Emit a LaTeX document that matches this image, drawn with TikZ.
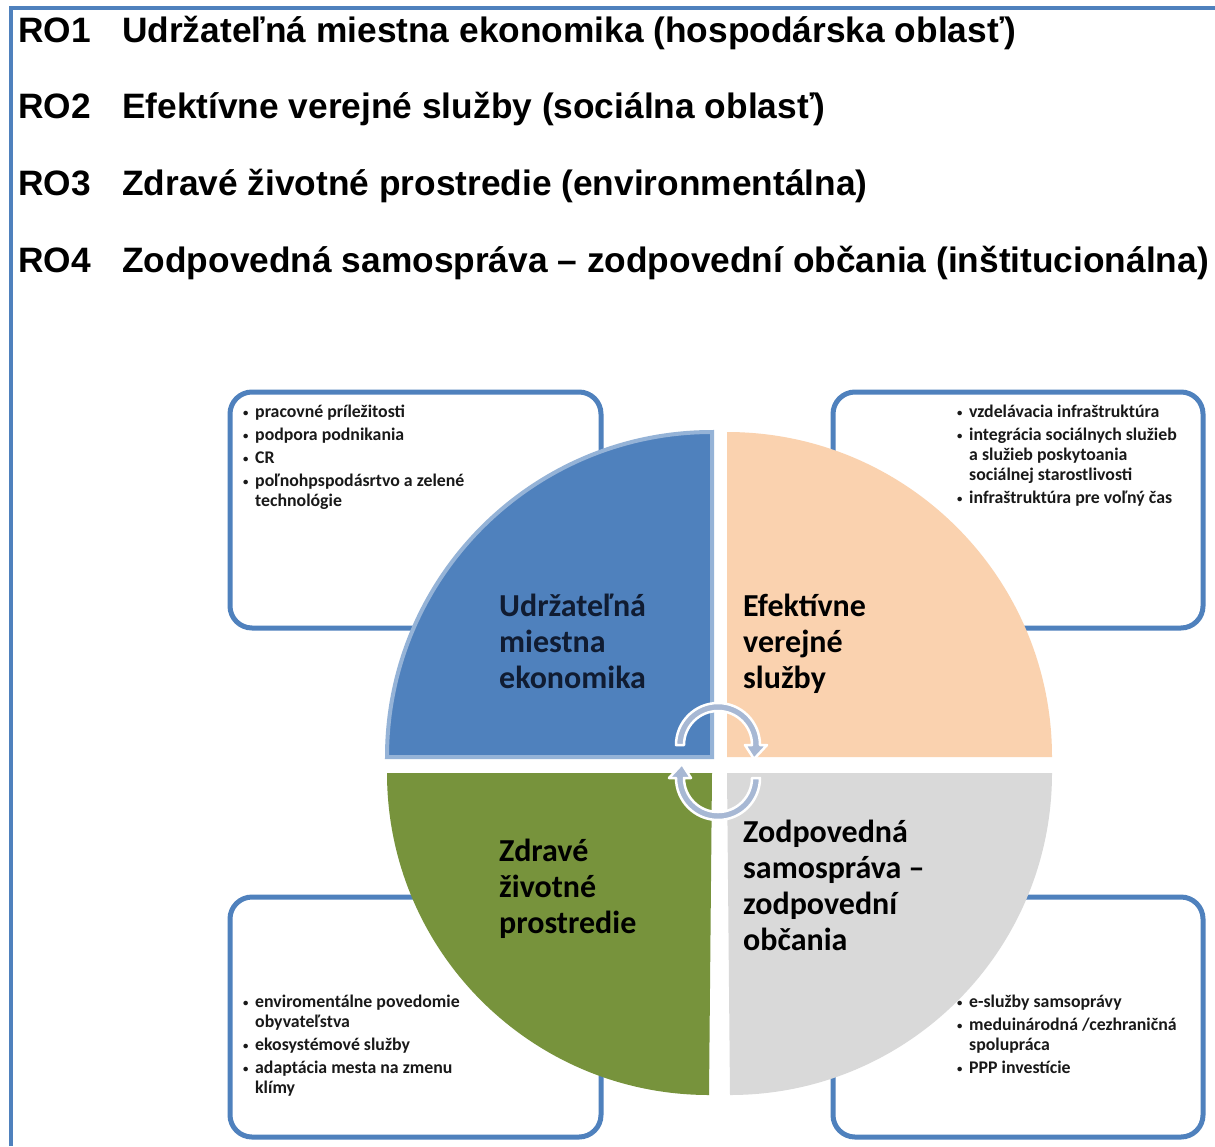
\documentclass[tikz,border=0pt]{standalone}
\usepackage{fontspec}
\setmainfont{Carlito}
\newfontfamily\headfont{Liberation Sans}
\usepackage{tikz}
\definecolor{frameBlue}{RGB}{79,129,189}
\definecolor{rimBlue}{RGB}{149,179,215}
\definecolor{econBlue}{RGB}{79,129,189}
\definecolor{socPeach}{RGB}{250,210,175}
\definecolor{envGreen}{RGB}{119,147,60}
\definecolor{instGray}{RGB}{217,217,217}
\definecolor{cycSteel}{RGB}{167,184,212}
\definecolor{inkNavy}{RGB}{16,28,50}
\newcommand{\lbul}{\makebox[12pt][l]{\raisebox{1pt}{\scalebox{0.6}{\textbullet}}}}

\begin{document}
\begin{tikzpicture}[x=1pt, y=1pt,
  headtxt/.style={anchor=base west, inner sep=0pt, font=\headfont\fontsize{35.3}{40}\selectfont\bfseries},
  qlabel/.style={anchor=base west, inner sep=0pt, font=\fontsize{32}{36}\selectfont\bfseries},
  listtxt/.style={anchor=base west, inner sep=0pt, text=black!90, font=\fontsize{17.8}{20}\selectfont\bfseries},
  listbox/.style={draw=frameBlue, line width=5pt, fill=white, rounded corners=22pt},
  cycarrow/.style={fill=cycSteel, draw=white, line width=2.5pt, line join=round}]
  \useasboundingbox (0,0) rectangle (1215,-1146);
  \fill[white] (0,0) rectangle (1215,-1146);

  % 1. frame
  \draw[frameBlue, line width=4pt] (11,-1146) -- (11,-8) -- (1215,-8);

  % 2. headings
  \node[headtxt] (ro1) at (18,-42) {RO1};
  \node[headtxt] (ro1t) at (122,-42) {Udržateľná miestna ekonomika (hospodárska oblasť)};
  \node[headtxt] (ro2) at (18,-118) {RO2};
  \node[headtxt] (ro2t) at (122,-118) {Efektívne verejné služby (sociálna oblasť)};
  \node[headtxt] (ro3) at (18,-195) {RO3};
  \node[headtxt] (ro3t) at (122,-195) {Zdravé životné prostredie (environmentálna)};
  \node[headtxt] (ro4) at (18,-272) {RO4};
  \node[headtxt] (ro4t) at (122,-272) {Zodpovedná samospráva – zodpovední občania (inštitucionálna)};

  % 3. boxes behind the circle
  \draw[listbox] (230,-392) rectangle (601,-628);
  \draw[listbox] (833,-392) rectangle (1203,-628);
  \draw[listbox] (230,-897) rectangle (601,-1137);
  \draw[listbox] (833,-897) rectangle (1203,-1137);

  % 4. quadrants
  \filldraw[fill=econBlue, draw=rimBlue, line width=4pt] (712,-757) -- (387,-757) arc[start angle=180, end angle=90, radius=325pt] -- cycle;
  \fill[socPeach] (727,-757) -- (727,-432) arc[start angle=90, end angle=0, radius=325pt] -- cycle;
  \fill[envGreen] (712,-773) -- (387,-773) arc[start angle=180, end angle=270, radius=322pt] -- cycle;
  \fill[instGray] (727,-773) -- (1052,-773) arc[start angle=0, end angle=-90, radius=322pt] -- cycle;

  % 5. quadrant labels
  \node[qlabel, text=inkNavy] (econ) at (499,-616) {\begin{tabular}[t]{@{}l@{}}Udržateľná\\ miestna\\ ekonomika\end{tabular}};
  \node[qlabel] (soc) at (743,-616) {\begin{tabular}[t]{@{}l@{}}Efektívne\\ verejné\\ služby\end{tabular}};
  \node[qlabel] (env) at (499,-861) {\begin{tabular}[t]{@{}l@{}}Zdravé\\ životné\\ prostredie\end{tabular}};
  \node[qlabel] (inst) at (743,-842) {\begin{tabular}[t]{@{}l@{}}Zodpovedná\\ samospráva –\\ zodpovední\\ občania\end{tabular}};

  % 6. lists
  \node[listtxt] (econList) at (243,-417) {\begin{tabular}[t]{@{}l@{}l@{}}
    \lbul & pracovné príležitosti\\[3pt]
    \lbul & podpora podnikania\\[3pt]
    \lbul & CR\\[3pt]
    \lbul & poľnohpspodásrtvo a zelené\\
          & technológie
  \end{tabular}};
  \node[listtxt] (socList) at (957,-417) {\begin{tabular}[t]{@{}l@{}l@{}}
    \lbul & vzdelávacia infraštruktúra\\[3pt]
    \lbul & integrácia sociálnych služieb\\
          & a služieb poskytoania\\
          & sociálnej starostlivosti\\[3pt]
    \lbul & infraštruktúra pre voľný čas
  \end{tabular}};
  \node[listtxt] (envList) at (243,-1007) {\begin{tabular}[t]{@{}l@{}l@{}}
    \lbul & enviromentálne povedomie\\
          & obyvateľstva\\[3pt]
    \lbul & ekosystémové služby\\[3pt]
    \lbul & adaptácia mesta na zmenu\\
          & klímy
  \end{tabular}};
  \node[listtxt] (instList) at (957,-1007) {\begin{tabular}[t]{@{}l@{}l@{}}
    \lbul & e-služby samsoprávy\\[3pt]
    \lbul & meduinárodná /cezhraničná\\
          & spolupráca\\[3pt]
    \lbul & PPP investície
  \end{tabular}};

  % 7. cycle arrows
  \filldraw[cycarrow] (676,-745) arc[start angle=180, end angle=0, radius=42pt]
    -- (767,-745) -- (754,-759) -- (745,-745) -- (752,-745)
    arc[start angle=0, end angle=180, radius=34pt] -- cycle;
  \filldraw[cycarrow] (760,-778) arc[start angle=0, end angle=-180, radius=42pt]
    -- (669,-778) -- (682,-764) -- (691,-778) -- (684,-778)
    arc[start angle=180, end angle=360, radius=34pt] -- cycle;
\end{tikzpicture}
\end{document}
